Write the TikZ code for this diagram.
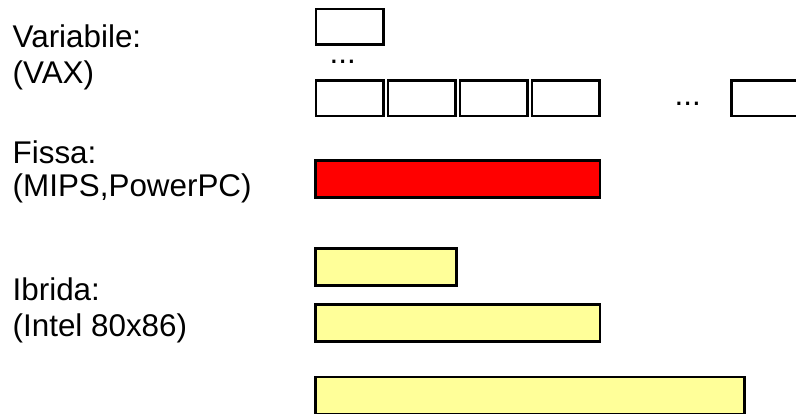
\documentclass[tikz,border=0pt]{standalone}
\usepackage{fontspec}
\setmainfont{Liberation Sans}
\definecolor{hybyellow}{HTML}{FFFF99}
\begin{document}
\begin{tikzpicture}[x=1bp,y=-1bp,
    lbl/.style={anchor=base west,inner sep=0pt,font=\fontsize{31.5}{36}\selectfont},
    cell/.style={draw=black,line width=2.6bp,inner sep=0pt,minimum height=35.4bp,minimum width=67.4bp},
    fixbox/.style={cell,fill=red,minimum height=37.1bp},
    hybbox/.style={cell,fill=hybyellow,minimum height=36.8bp}]
      \useasboundingbox (0,0) rectangle (796,413);
      % labels
      \node[lbl] (var) at (12.5,47) {Variabile:};
      \node[lbl] (vax) at (12.5,83.3) {(VAX)};
      \node[lbl] (fix) at (12.5,163.3) {Fissa:};
      \node[lbl] (mips) at (12.5,196.7) {(MIPS,PowerPC)};
      \node[lbl] (ibr) at (12.5,300.7) {Ibrida:};
      \node[lbl] (intel) at (12.5,336.7) {(Intel 80x86)};
      % variable length
      \node[cell] (v0) at (349.5,26.7) {};
      \node[lbl] (dots1) at (329.5,63.5) {...};
      \node[cell] (v1) at (349.7,98.3) {};
      \node[cell] (v2) at (421.7,98.3) {};
      \node[cell] (v3) at (493.7,98.3) {};
      \node[cell] (v4) at (565.7,98.3) {};
      \node[lbl] (dots2) at (674.5,105) {...};
      \node[cell] (vn) at (765,98.3) {};
      % fixed length
      \node[fixbox,minimum width=284.7bp] (f0) at (457.7,179.2) {};
      % hybrid
      \node[hybbox,minimum width=141bp] (h0) at (385.8,267) {};
      \node[hybbox,minimum width=284.7bp] (h1) at (457.7,323) {};
      \node[hybbox,minimum width=429.4bp] (h2) at (530,395.5) {};
    \end{tikzpicture}
\end{document}
